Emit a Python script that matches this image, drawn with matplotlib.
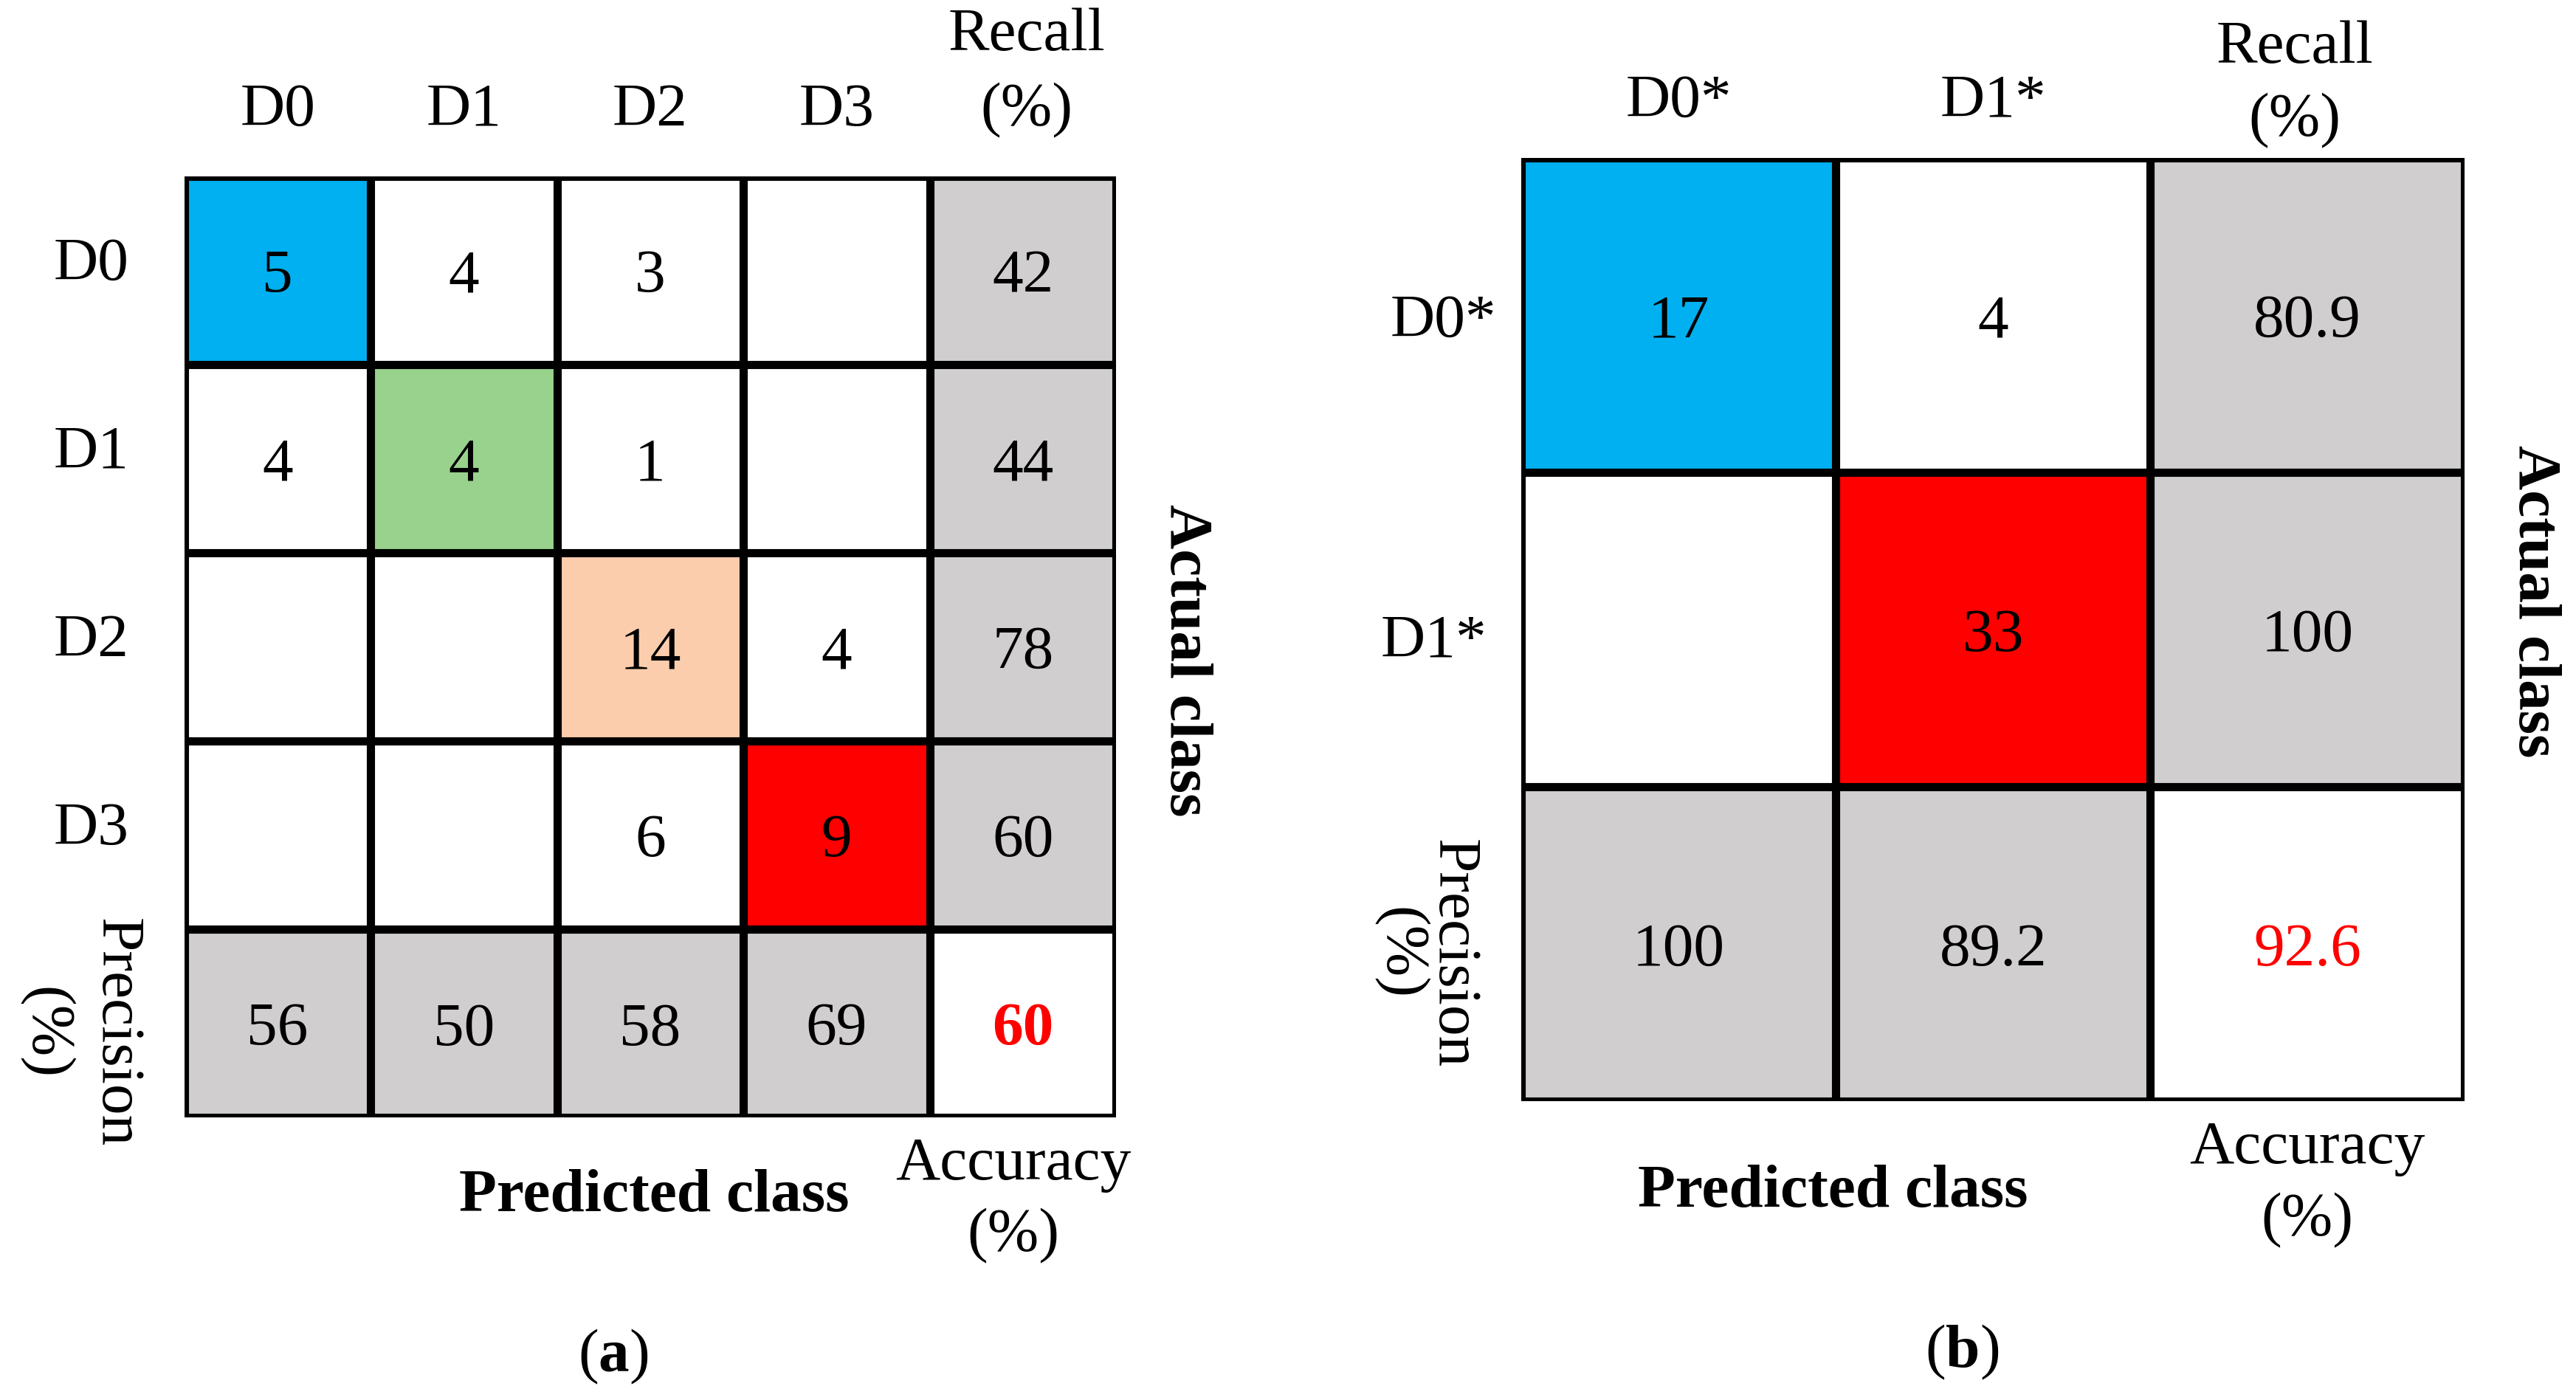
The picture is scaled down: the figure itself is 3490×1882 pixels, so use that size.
import matplotlib
matplotlib.use("Agg")
import matplotlib.pyplot as plt
from matplotlib.patches import Rectangle

plt.rcParams['font.family'] = ['Liberation Serif', 'DejaVu Serif']
plt.rcParams['mathtext.fontset'] = 'custom'
plt.rcParams['mathtext.rm'] = 'Liberation Serif'
plt.rcParams['mathtext.bf'] = 'Liberation Serif:bold'

# ---- data, panel (a) ----
classes_a = ['D0', 'D1', 'D2', 'D3']
counts_a = [[5, 4, 3, None],
            [4, 4, 1, None],
            [None, None, 14, 4],
            [None, None, 6, 9]]
recall_a = ['42', '44', '78', '60']
precision_a = ['56', '50', '58', '69']
accuracy_a = '60'
diag_colors_a = ['#00B0F0', '#98D28C', '#FCCDAC', '#FF0000']

# ---- data, panel (b) ----
classes_b = ['D0*', 'D1*']
counts_b = [[17, 4],
            [None, 33]]
recall_b = ['80.9', '100']
precision_b = ['100', '89.2']
accuracy_b = '92.6'
diag_colors_b = ['#00B0F0', '#FF0000']

GRAY = '#D0CECE'
FS = 60
LW = 8


def draw_matrix(ax, classes, counts, recall, precision, accuracy, diag_colors, acc_bold):
    n = len(classes)
    size = n + 1
    for i in range(size):
        for j in range(size):
            if i < n and j < n:
                fc = diag_colors[i] if i == j else 'white'
                val = counts[i][j]
                txt = '' if val is None else str(val)
            elif i == n and j == n:
                fc = 'white'
                txt = accuracy
            elif j == n:
                fc = GRAY
                txt = recall[i]
            else:
                fc = GRAY
                txt = precision[j]
            ax.add_patch(Rectangle((j, i), 1, 1, facecolor=fc, edgecolor='none'))
            if i == n and j == n:
                ax.text(j + 0.5, i + 0.5, txt, ha='center', va='center_baseline',
                        fontsize=FS, color='#FF0000',
                        fontweight='bold' if acc_bold else 'normal')
            elif txt:
                ax.text(j + 0.5, i + 0.5, txt, ha='center', va='center_baseline',
                        fontsize=FS, color='black')
    # cell borders
    for k in range(size + 1):
        ax.plot([0, size], [k, k], color='black', lw=LW, solid_capstyle='projecting')
        ax.plot([k, k], [0, size], color='black', lw=LW, solid_capstyle='projecting')
    ax.set_xlim(0, size)
    ax.set_ylim(size, 0)
    ax.axis('off')


fig = plt.figure(figsize=(34.91, 18.82), dpi=100)

# panel (a)
ax_a = fig.add_axes([0.0716, 0.1955, 0.3615, 0.6775])
draw_matrix(ax_a, classes_a, counts_a, recall_a, precision_a, accuracy_a,
            diag_colors_a, True)
for k, name in enumerate(classes_a):
    ax_a.text(k + 0.5, -0.35, name, ha='center', va='center', fontsize=FS)
    ax_a.text(-0.50, k + 0.47, name, ha='center', va='center', fontsize=FS)
ax_a.text(4.52, -0.75, 'Recall', ha='center', va='center', fontsize=FS)
ax_a.text(4.52, -0.35, '(%)', ha='center', va='center', fontsize=FS)
ax_a.text(5.37, 2.57, 'Actual class', ha='center', va='center', fontsize=FS,
          fontweight='bold', rotation=270)
ax_a.text(2.52, 5.42, 'Predicted class', ha='center', va='center', fontsize=FS,
          fontweight='bold')
ax_a.text(4.45, 5.25, 'Accuracy', ha='center', va='center', fontsize=FS)
ax_a.text(4.45, 5.63, '(%)', ha='center', va='center', fontsize=FS)
ax_a.text(-0.37, 4.55, 'Precision', ha='center', va='center', fontsize=FS,
          rotation=270)
ax_a.text(-0.75, 4.55, '(%)', ha='center', va='center', fontsize=FS,
          rotation=270)
ax_a.text(2.30, 6.27, r'($\mathbf{a}$)', ha='center', va='center', fontsize=FS)

# panel (b)
ax_b = fig.add_axes([0.5905, 0.2072, 0.3660, 0.6789])
draw_matrix(ax_b, classes_b, counts_b, recall_b, precision_b, accuracy_b,
            diag_colors_b, False)
ax_b.text(0.5, -0.18, classes_b[0], ha='center', va='center', fontsize=FS)
ax_b.text(1.5, -0.18, classes_b[1], ha='center', va='center', fontsize=FS)
ax_b.text(-0.25, 0.52, classes_b[0], ha='center', va='center', fontsize=FS)
ax_b.text(-0.28, 1.54, classes_b[1], ha='center', va='center', fontsize=FS)
ax_b.text(2.46, -0.35, 'Recall', ha='center', va='center', fontsize=FS)
ax_b.text(2.46, -0.12, '(%)', ha='center', va='center', fontsize=FS)
ax_b.text(3.22, 1.41, 'Actual class', ha='center', va='center', fontsize=FS,
          fontweight='bold', rotation=270)
ax_b.text(0.99, 3.29, 'Predicted class', ha='center', va='center', fontsize=FS,
          fontweight='bold')
ax_b.text(2.50, 3.15, 'Accuracy', ha='center', va='center', fontsize=FS)
ax_b.text(2.50, 3.38, '(%)', ha='center', va='center', fontsize=FS)
ax_b.text(-0.22, 2.53, 'Precision', ha='center', va='center', fontsize=FS,
          rotation=270)
ax_b.text(-0.39, 2.53, '(%)', ha='center', va='center', fontsize=FS,
          rotation=270)
ax_b.text(1.40, 3.80, r'($\mathbf{b}$)', ha='center', va='center', fontsize=FS)

fig.savefig('out.png', dpi=100)
